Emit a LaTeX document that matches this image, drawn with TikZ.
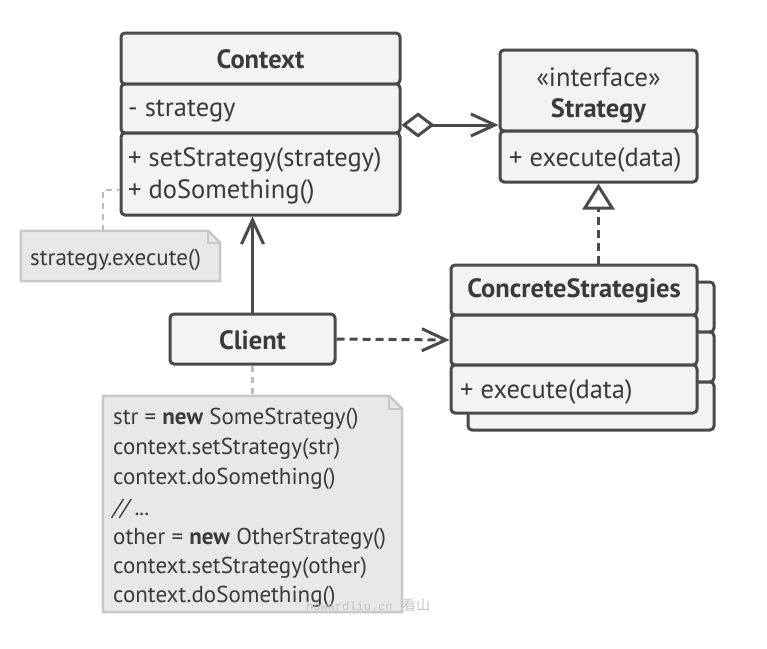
\documentclass[tikz,border=0pt]{standalone}
\usepackage{fontspec}
\setmainfont{PT Sans}
\newfontfamily\cjkfont{Noto Sans CJK SC}
\newfontfamily\wmmono{Liberation Mono}
\usetikzlibrary{arrows.meta}
\definecolor{ink}{HTML}{4A4A4A}
\definecolor{txt}{HTML}{3A3A3A}
\definecolor{boxfill}{HTML}{F3F3F3}
\definecolor{notefill}{HTML}{E8E8E8}
\definecolor{noteline}{HTML}{C8C8C8}
\definecolor{linkgray}{HTML}{BDBDBD}
\definecolor{wmgray}{HTML}{C4C4C4}
\begin{document}
\begin{tikzpicture}[x=1pt,y=-1pt,
  comp/.style={draw=ink, line width=3pt, fill=boxfill, rounded corners=4pt, inner sep=0pt},
  lbl/.style={text=txt, inner sep=0pt, font=\fontsize{26.5}{30}\selectfont},
  blbl/.style={lbl, font=\fontsize{26.5}{30}\selectfont\bfseries},
  nlbl/.style={text=txt, inner sep=0pt, font=\fontsize{23}{27}\selectfont},
  notebox/.style={draw=noteline, line width=2.5pt, fill=notefill, line join=miter},
  notelink/.style={draw=linkgray, line width=2.5pt, dash pattern=on 6pt off 5pt},
  assoc/.style={draw=ink, line width=3pt, -{Straight Barb[length=24pt,width=22pt,line width=3pt]}},
  depend/.style={assoc, dash pattern=on 8pt off 5pt},
  realize/.style={draw=ink, line width=3pt, dash pattern=on 8pt off 5pt, -{Triangle[open,fill=white,length=26pt,width=32pt,line width=3pt]}},
  aggr/.style={draw=ink, line width=3pt, {Diamond[open,fill=white,length=33pt,width=25pt,line width=3pt]}-{Straight Barb[length=24pt,width=22pt,line width=3pt]}}
]
\useasboundingbox (0,0) rectangle (767,648);
\fill[white] (0,0) rectangle (767,648);

% Context
\node[comp, minimum width=279pt, minimum height=51pt] (ctxh) at (260.5,58.5) {};
\node[comp, minimum width=279pt, minimum height=49pt] (ctxa) at (260.5,108.5) {};
\node[comp, minimum width=279pt, minimum height=82pt] (ctxm) at (260.5,174) {};
\node[blbl] (ctxt) at (260.5,59) {Context};
\node[lbl, anchor=west] (ctxs) at (128,111) {- strategy};
\node[lbl, anchor=west] (ctxm1) at (128,160) {+ setStrategy(strategy)};
\node[lbl, anchor=west] (ctxm2) at (128,192) {+ doSomething()};

% Strategy
\node[comp, minimum width=197pt, minimum height=81pt] (sth) at (598.5,90.5) {};
\node[comp, minimum width=197pt, minimum height=51pt] (stm) at (598.5,156.5) {};
\node[lbl] (sti) at (598.5,77) {«interface»};
\node[blbl] (stn) at (598.5,111) {Strategy};
\node[lbl, anchor=west] (stx) at (509,160) {+ execute(data)};

% ConcreteStrategies (back copy)
\node[comp, minimum width=246pt, minimum height=50pt] (bkh) at (591,307) {};
\node[comp, minimum width=246pt, minimum height=50pt] (bka) at (591,357) {};
\node[comp, minimum width=246pt, minimum height=48pt] (bkm) at (591,406) {};
% ConcreteStrategies (front)
\node[comp, minimum width=246pt, minimum height=50pt] (csh) at (574,290) {};
\node[comp, minimum width=246pt, minimum height=50pt] (csa) at (574,340) {};
\node[comp, minimum width=246pt, minimum height=48pt] (csm) at (574,389) {};
\node[blbl] (csn) at (574,291) {ConcreteStrategies};
\node[lbl, anchor=west] (csx) at (460,392) {+ execute(data)};

% Client
\node[comp, minimum width=165pt, minimum height=50pt] (cli) at (252.5,339) {};
\node[blbl] (clit) at (252.5,340) {Client};

% Note 1
\node[minimum width=199pt, minimum height=50pt, inner sep=0pt] (n1) at (120.5,256) {};
\draw[notebox] (n1.north west) -- ([xshift=-12pt]n1.north east) -- ([yshift=-12pt]n1.north east) -- (n1.south east) -- (n1.south west) -- cycle;
\draw[draw=noteline, line width=2pt] ([xshift=-12pt]n1.north east) -- ([xshift=-12pt,yshift=-12pt]n1.north east) -- ([yshift=-12pt]n1.north east);
\node[nlbl, anchor=west] (n1t) at (30,260) {strategy.execute()};

% Note 2
\node[minimum width=299pt, minimum height=216pt, inner sep=0pt] (n2) at (252.5,504) {};
\draw[notebox] (n2.north west) -- ([xshift=-13pt]n2.north east) -- ([yshift=-13pt]n2.north east) -- (n2.south east) -- (n2.south west) -- cycle;
\draw[draw=noteline, line width=2pt] ([xshift=-13pt]n2.north east) -- ([xshift=-13pt,yshift=-13pt]n2.north east) -- ([yshift=-13pt]n2.north east);
\node[nlbl, anchor=west] (c1) at (113,419) {str = \textbf{new} SomeStrategy()};
\node[nlbl, anchor=west] (c2) at (113,449) {context.setStrategy(str)};
\node[nlbl, anchor=west] (c3) at (113,479) {context.doSomething()};
\node[nlbl, anchor=west] (c4) at (113,509) {\itshape // ...};
\node[nlbl, anchor=west] (c5) at (113,539) {other = \textbf{new} OtherStrategy()};
\node[nlbl, anchor=west] (c6) at (113,568) {context.setStrategy(other)};
\node[nlbl, anchor=west] (c7) at (113,597) {context.doSomething()};

% note links
\coordinate (k1) at (103,190);
\draw[notelink] (n1.north west -| k1) -- (k1) -- (k1 -| ctxm.west);
\draw[notelink] (cli.south) -- (n2.north);

% connectors
\draw[aggr] (ctxa.east |- 0,125) -- (sth.west |- 0,125);
\draw[realize] (csh.north -| stm.south) -- (stm.south);
\draw[assoc] (cli.north) -- (ctxm.south -| cli.north);
\draw[depend] (cli.east) -- (csa.west);

% watermark
\node[text=wmgray, inner sep=0pt, anchor=west, font=\wmmono\fontsize{12}{14}\selectfont] (wm1) at (306,606) {howardliu.cn};
\node[text=wmgray, inner sep=0pt, anchor=west, font=\cjkfont\fontsize{14}{16}\selectfont] (wm2) at (402,605) {看山};
\end{tikzpicture}
\end{document}
